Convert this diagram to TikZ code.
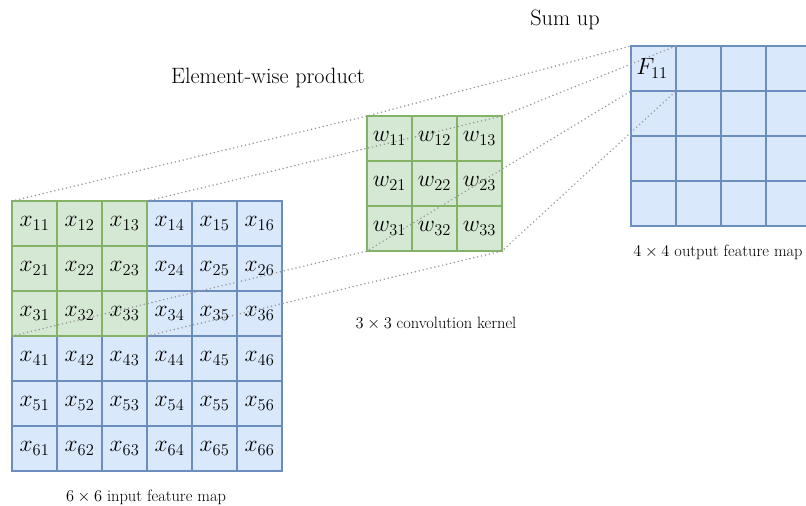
\RequirePackage{fix-cm}
\documentclass[tikz,border=0pt]{standalone}
\usepackage{fontspec}
\definecolor{cellblue}{HTML}{6C8EBF}
\definecolor{fillblue}{HTML}{DAE8FC}
\definecolor{cellgreen}{HTML}{82B366}
\definecolor{fillgreen}{HTML}{D5E8D4}
\definecolor{linkgray}{HTML}{999999}
\begin{document}
\begin{tikzpicture}[x=1pt,y=-1pt,
  cellbase/.style={minimum width=45pt, minimum height=45pt, inner sep=0pt,
    outer sep=0pt, line width=1.5pt, font=\fontsize{23.5}{27}\selectfont},
  bluecell/.style={cellbase, draw=cellblue, fill=fillblue},
  greencell/.style={cellbase, draw=cellgreen, fill=fillgreen},
  link/.style={draw=linkgray, line width=1.7pt, line cap=round,
    dash pattern=on 0pt off 4pt},
  caption/.style={font=\fontsize{16.4}{19}\selectfont},
  heading/.style={font=\fontsize{22.2}{26}\selectfont}]
\useasboundingbox (0,0) rectangle (806,506);
\clip (0,0) rectangle (806,506);

% 6x6 input feature map: blue cells outside the 3x3 window
\foreach \r in {1,...,6}
  \foreach \c in {1,...,6} {
    \ifnum\r>3
      \node[bluecell] (x\r\c) at ({34.5+45*(\c-1)},{223.5+45*(\r-1)}) {$x_{\r\c}$};
    \else\ifnum\c>3
      \node[bluecell] (x\r\c) at ({34.5+45*(\c-1)},{223.5+45*(\r-1)}) {$x_{\r\c}$};
    \fi\fi
  }
% the 3x3 window under the kernel
\foreach \r in {1,2,3}
  \foreach \c in {1,2,3}
    \node[greencell] (x\r\c) at ({34.5+45*(\c-1)},{223.5+45*(\r-1)}) {$x_{\r\c}$};

% 3x3 convolution kernel
\foreach \r in {1,2,3}
  \foreach \c in {1,2,3}
    \node[greencell] (w\r\c) at ({389.5+45*(\c-1)},{138.5+45*(\r-1)}) {$w_{\r\c}$};

% 4x4 output feature map
\foreach \r in {1,...,4}
  \foreach \c in {1,...,4}
    \node[bluecell] (F\r\c) at ({653.5+45*(\c-1)},{68.5+45*(\r-1)}) {};
\node[font=\fontsize{23.5}{27}\selectfont] (f11label) at ([xshift=-1.5pt]F11.center) {$F_{11}$};

% captions and headings
\node[heading] (sumup) at (565,20) {Sum up};
\node[heading] (ewprod) at (268,78) {Element-wise product};
\node[caption] (incap) at (146,497) {$6\times 6$ input feature map};
\node[caption] (kcap) at (436,323) {$3\times 3$ convolution kernel};
\node[caption] (outcap) at (718,252) {$4\times 4$ output feature map};

% projection lines: window corners -> kernel corners -> output cell corners
\draw[link] (x11.north west) -- (w11.north west) -- (F11.north west);
\draw[link] (x13.north east) -- (w13.north east) -- (F11.north east);
\draw[link] (x31.south west) -- (w31.south west) -- (F11.south west);
\draw[link] (x33.south east) -- (w33.south east) -- (F11.south east);
\end{tikzpicture}
\end{document}
